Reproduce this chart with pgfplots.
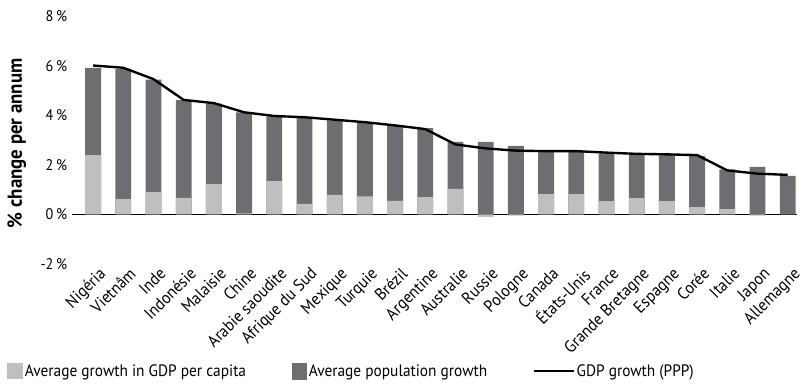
\documentclass[border=0pt]{standalone}
\usepackage{pgfplots}
\pgfplotsset{compat=1.18}
\usepackage{fontspec}
\setmainfont{PT Sans}[FakeStretch=0.93]
\definecolor{lightbar}{HTML}{BEBFC1}
\definecolor{darkbar}{HTML}{6D6E71}
\begin{document}
\begin{tikzpicture}
\begin{axis}[
  scale only axis,
  width=732pt, height=250pt,
  xmin=-0.69, xmax=23.3,
  ymin=-2, ymax=8,
  ytick={-2,0,2,4,6,8},
  /pgf/number format/assume math mode=true,
  yticklabel={\pgfmathprintnumber{\tick}\,\%},
  yticklabel style={font=\fontsize{15.5}{17}\selectfont, anchor=east, inner sep=0pt, xshift=-5pt},
  axis line style={draw=none},
  extra y ticks={0},
  extra y tick labels={},
  extra y tick style={grid=major, major grid style={black, line width=0.9pt}},
  major tick length=0pt,
  xtick={0,...,23},
  xticklabels={Nigéria, Vietnâm, Inde, Indonésie, Malaisie, Chine, Arabie saoudite, Afrique du Sud, Mexique, Turquie, Brézil, Argentine, Australie, Russie, Pologne, Canada, États-Unis, France, Grande Bretagne, Espagne, Corée, Italie, Japon, Allemagne},
  xticklabel style={font=\fontsize{17}{18}\selectfont, rotate=45, anchor=north east, xshift=3pt, yshift=-4pt, inner sep=1pt},
  ylabel={\% change per annum},
  ylabel style={font=\fontsize{20.5}{22}\selectfont\bfseries, at={(axis description cs:-0.0765,0.488)}, anchor=center},
  legend columns=3,
  legend style={draw=none, fill=none, at={(axis description cs:-0.0902,-0.432)}, anchor=west,
    font=\fontsize{16.7}{18}\selectfont, inner sep=0pt,
    /tikz/every even column/.append style={column sep=44pt},
    /tikz/every odd column/.append style={column sep=0pt}},
  legend cell align=left,
  clip=false,
]
\addplot[ybar, bar width=16pt, bar shift=0pt, fill=darkbar, draw=none, forget plot] coordinates {
(0,5.92) (1,5.88) (2,5.45) (3,4.62) (4,4.48) (5,4.13) (6,3.96) (7,3.89) (8,3.80) (9,3.72)
(10,3.57) (11,3.49) (12,2.93) (13,2.93) (14,2.77) (15,2.53) (16,2.53) (17,2.47) (18,2.40) (19,2.40)
(20,2.36) (21,1.82) (22,1.92) (23,1.56)};
\addplot[ybar, bar width=16pt, bar shift=0pt, fill=lightbar, draw=none,
  legend image code/.code={\fill[lightbar] (0pt,-8pt) rectangle (16pt,8pt);}] coordinates {
(0,2.40) (1,0.62) (2,0.90) (3,0.67) (4,1.23) (5,0.04) (6,1.35) (7,0.43) (8,0.79) (9,0.73)
(10,0.55) (11,0.70) (12,1.03) (13,-0.10) (14,-0.05) (15,0.82) (16,0.82) (17,0.54) (18,0.66) (19,0.54)
(20,0.30) (21,0.22) (22,-0.05) (23,0.00)};
\addlegendentry{\strut Average growth in GDP per capita}
\addlegendimage{legend image code/.code={\fill[darkbar] (0pt,-8pt) rectangle (15pt,8pt);}}
\addlegendentry{\strut Average population growth}
\addplot[sharp plot, black, line width=2.4pt, mark=none,
  legend image code/.code={\draw[black, line width=2.4pt] (0pt,0pt) -- (40pt,0pt);}] coordinates {
(0,6.02) (1,5.93) (2,5.47) (3,4.63) (4,4.50) (5,4.13) (6,3.98) (7,3.93) (8,3.83) (9,3.73)
(10,3.60) (11,3.45) (12,2.83) (13,2.67) (14,2.58) (15,2.56) (16,2.56) (17,2.50) (18,2.45) (19,2.43)
(20,2.40) (21,1.78) (22,1.65) (23,1.60)};
\addlegendentry{\strut GDP growth (PPP)}
\end{axis}
\path (-73pt,-121pt) rectangle (732pt,266.7pt);
\end{tikzpicture}
\end{document}
